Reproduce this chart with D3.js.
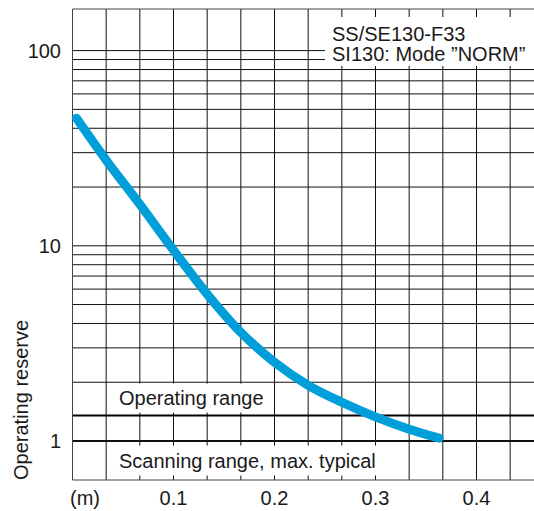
<!DOCTYPE html>
<html>
<head>
<meta charset="utf-8">
<script src="https://cdn.jsdelivr.net/npm/d3@7"></script>
<style>
  body { margin: 0; background: #fff; }
  text { font-family: "Liberation Sans", Arial, sans-serif; font-size: 20px; fill: #1a1a1a; }
</style>
</head>
<body>
<svg id="chart"></svg>
<script>
// curve: distance (m) -> operating reserve
const distance = [0.004, 0.0333, 0.0667, 0.1, 0.1333, 0.1667, 0.2, 0.2333, 0.2667, 0.3, 0.3333, 0.363];
const reserve = [45, 27.5, 16.3, 9.5, 5.66, 3.6, 2.53, 1.93, 1.58, 1.33, 1.15, 1.035];

const yTicks = [1, 10, 100];
const yGrid = [1, 2, 3, 4, 5, 6, 7, 8, 9, 10, 20, 30, 40, 50, 60, 70, 80, 90, 100];
const xTicks = [0.1, 0.2, 0.3, 0.4];
const xGrid = d3.range(1, 14).map(k => k / 30);
const operatingLimit = 1.35;

const width = 534;
const height = 511;
const plot = { left: 72.5, top: 9, right: 536, bottom: 480 };

const x = d3.scaleLinear()
  .domain([0, 0.4])
  .range([plot.left, 476.5]);

const y = d3.scaleLog()
  .domain([1, 100])
  .range([441, 50.6]);

const svg = d3.select('#chart')
  .attr('width', width)
  .attr('height', height);

// grid
svg.append('g')
  .selectAll('line')
  .data(xGrid)
  .enter().append('line')
  .attr('x1', d => x(d))
  .attr('x2', d => x(d))
  .attr('y1', plot.top)
  .attr('y2', plot.bottom)
  .attr('stroke', '#111');

svg.append('g')
  .selectAll('line')
  .data(yGrid)
  .enter().append('line')
  .attr('x1', plot.left)
  .attr('x2', plot.right)
  .attr('y1', d => y(d))
  .attr('y2', d => y(d))
  .attr('stroke', '#111')
  .attr('stroke-width', d => d === 1 ? 2 : 1);

svg.append('line')
  .attr('x1', plot.left)
  .attr('x2', plot.right)
  .attr('y1', y(operatingLimit))
  .attr('y2', y(operatingLimit))
  .attr('stroke', '#000')
  .attr('stroke-width', 2);

// frame
svg.append('path')
  .attr('d', `M${plot.right},${plot.top}H${plot.left}V${plot.bottom}H${plot.right}`)
  .attr('fill', 'none')
  .attr('stroke', '#444');

// text boxes sitting on the grid
const note = svg.append('g');
note.append('rect')
  .attr('x', 325).attr('y', 17)
  .attr('width', 215).attr('height', 49)
  .attr('fill', '#fff');
note.append('text').attr('x', 332).attr('y', 40.5).text('SS/SE130-F33');
note.append('text').attr('x', 332).attr('y', 60.5).text('SI130: Mode \u201dNORM\u201d');

const opY = y(operatingLimit);
svg.append('rect')
  .attr('x', 110).attr('y', opY - 32)
  .attr('width', 155).attr('height', 29)
  .attr('fill', '#fff');
svg.append('text')
  .attr('x', 119)
  .attr('y', opY - 11)
  .text('Operating range');

const mid = (y(1) + plot.bottom) / 2;
svg.append('rect')
  .attr('x', 110).attr('y', mid - 15)
  .attr('width', 267).attr('height', 30)
  .attr('fill', '#fff');
svg.append('text')
  .attr('x', 119)
  .attr('y', mid + 7.5)
  .text('Scanning range, max. typical');

// axis labels
svg.append('g')
  .selectAll('text')
  .data(yTicks)
  .enter().append('text')
  .attr('x', 61)
  .attr('y', d => y(d))
  .attr('dy', '0.35em')
  .attr('text-anchor', 'end')
  .text(d => d);

svg.append('g')
  .selectAll('text')
  .data(xTicks)
  .enter().append('text')
  .attr('x', d => x(d))
  .attr('y', 505)
  .attr('text-anchor', 'middle')
  .text(d => d3.format('.1f')(d));

svg.append('text')
  .attr('x', 70)
  .attr('y', 505)
  .text('(m)');

svg.append('text')
  .attr('transform', `translate(27.5, ${plot.bottom}) rotate(-90)`)
  .text('Operating reserve');

// curve
const line = d3.line()
  .x((d, i) => x(distance[i]))
  .y(d => y(d))
  .curve(d3.curveCatmullRom.alpha(0.5));

svg.append('path')
  .datum(reserve)
  .attr('d', line)
  .attr('fill', 'none')
  .attr('stroke', '#009fda')
  .attr('stroke-width', 9)
  .attr('stroke-linecap', 'round');
</script>
</body>
</html>
